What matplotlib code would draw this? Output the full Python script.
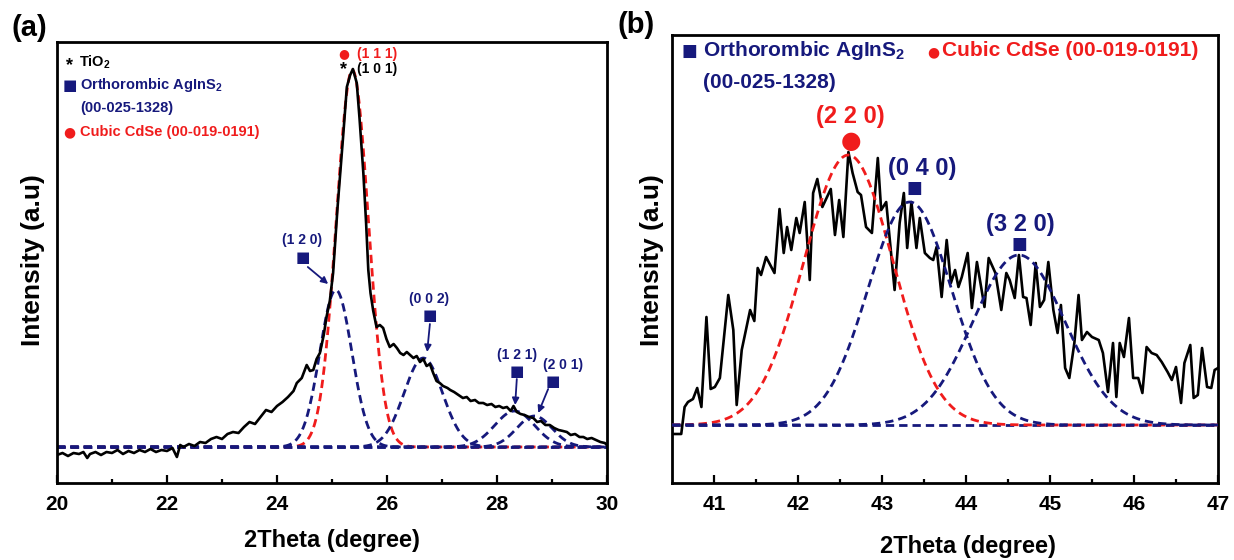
import numpy as np
import matplotlib
matplotlib.use("Agg")
import matplotlib.pyplot as plt

plt.rcParams['font.family'] = ['Liberation Sans', 'DejaVu Sans']
plt.rcParams['font.weight'] = 'bold'
plt.rcParams['mathtext.fontset'] = 'custom'
plt.rcParams['mathtext.bf'] = 'Liberation Sans:bold'
plt.rcParams['mathtext.rm'] = 'Liberation Sans:bold'
plt.rcParams['mathtext.default'] = 'bf'

# ---------------- data: panel (a) ----------------
two_theta_a = [
    20.0, 20.1, 20.2, 20.3, 20.4, 20.48, 20.55, 20.6, 20.7, 20.8,
    20.9, 21.0, 21.1, 21.2, 21.3, 21.4, 21.5, 21.6, 21.7, 21.8,
    21.9, 22.0, 22.1, 22.18, 22.24, 22.3, 22.4, 22.5, 22.6, 22.7,
    22.8, 22.9, 23.0, 23.1, 23.2, 23.3, 23.4, 23.5, 23.6, 23.7,
    23.8, 23.9, 24.0, 24.1, 24.2, 24.3, 24.36, 24.45, 24.54, 24.6,
    24.66, 24.72, 24.78, 24.85, 24.9, 24.96, 25.02, 25.1, 25.15, 25.2,
    25.27, 25.33, 25.38, 25.45, 25.5, 25.57, 25.62, 25.66, 25.7, 25.75,
    25.81, 25.87, 25.93, 25.99, 26.05, 26.12, 26.18, 26.24, 26.3, 26.36,
    26.42, 26.48, 26.54, 26.6, 26.66, 26.72, 26.78, 26.84, 26.9, 26.96,
    27.02, 27.1, 27.15, 27.22, 27.3, 27.38, 27.45, 27.52, 27.6, 27.67,
    27.75, 27.82, 27.9, 27.97, 28.04, 28.11, 28.18, 28.25, 28.3, 28.36,
    28.43, 28.5, 28.58, 28.66, 28.73, 28.8, 28.88, 28.96, 29.04, 29.12,
    29.2, 29.27, 29.34, 29.42, 29.5, 29.57, 29.64, 29.72, 29.8, 29.88,
    29.96, 30.0]
intensity_a = [
    28, 30, 27, 30, 29, 31, 25, 29, 31, 28,
    31, 30, 33, 29, 32, 30, 33, 31, 34, 31,
    33, 32, 35, 26, 38, 36, 39, 37, 41, 40,
    44, 46, 44, 49, 51, 50, 56, 61, 59, 66,
    73, 71, 77, 81, 86, 92, 100, 105, 118, 112,
    113, 124, 130, 148, 166, 182, 210, 275, 310, 345,
    396, 408, 414, 400, 365, 310, 260, 213, 190, 172,
    156, 158, 155, 144, 136, 139, 135, 130, 128, 131,
    128, 125, 127, 121, 124, 117, 119, 110, 102, 100,
    97, 95, 93, 91, 88, 85, 86, 82, 83, 80,
    80, 78, 79, 76, 77, 75, 76, 72, 77, 71,
    69, 68, 66, 65, 61, 62, 58, 58, 55, 53,
    52, 51, 48, 49, 46, 46, 44, 45, 43, 41,
    40, 38]
baseline_a = 36
peak_center_a = [25.37, 25.07, 26.66, 28.32, 28.68]
peak_amp_a = [377, 157, 89, 36, 31]
peak_sigma_a = [0.29, 0.29, 0.35, 0.36, 0.32]
peak_phase_a = ['CdSe', 'AgInS2', 'AgInS2', 'AgInS2', 'AgInS2']

# ---------------- data: panel (b) ----------------
two_theta_b = [
    40.50, 40.61, 40.65, 40.69, 40.75, 40.80, 40.85, 40.91, 40.96, 41.01,
    41.07, 41.17, 41.23, 41.27, 41.33, 41.43, 41.48, 41.52, 41.56, 41.62,
    41.72, 41.78, 41.83, 41.87, 41.92, 41.98, 42.02, 42.08, 42.14, 42.18,
    42.23, 42.29, 42.39, 42.44, 42.49, 42.54, 42.60, 42.65, 42.71, 42.75,
    42.81, 42.88, 42.95, 42.99, 43.05, 43.15, 43.21, 43.26, 43.30, 43.35,
    43.41, 43.45, 43.51, 43.57, 43.61, 43.65, 43.71, 43.77, 43.82, 43.87,
    43.91, 43.95, 44.02, 44.07, 44.13, 44.17, 44.22, 44.27, 44.35, 44.42,
    44.48, 44.52, 44.58, 44.63, 44.68, 44.72, 44.77, 44.83, 44.88, 44.93,
    44.98, 45.04, 45.09, 45.13, 45.18, 45.23, 45.29, 45.34, 45.38, 45.44,
    45.50, 45.58, 45.63, 45.69, 45.75, 45.79, 45.83, 45.88, 45.94, 45.99,
    46.05, 46.10, 46.15, 46.21, 46.27, 46.33, 46.40, 46.45, 46.50, 46.56,
    46.60, 46.67, 46.71, 46.76, 46.81, 46.87, 46.92, 46.96, 47.00]
intensity_b = [
    49, 49, 76, 81, 84, 95, 76, 166, 94, 96,
    105, 188, 153, 78, 133, 173, 162, 215, 208, 226,
    210, 274, 230, 256, 233, 265, 250, 281, 203, 290,
    304, 276, 294, 248, 283, 246, 331, 310, 291, 288,
    256, 250, 325, 273, 281, 193, 260, 290, 235, 281,
    235, 265, 230, 225, 223, 236, 186, 243, 200, 213,
    196, 206, 230, 175, 221, 201, 176, 225, 210, 173,
    210, 203, 185, 228, 186, 185, 158, 220, 176, 183,
    221, 173, 150, 178, 115, 105, 140, 188, 143, 151,
    146, 143, 130, 91, 140, 86, 140, 126, 165, 105,
    105, 90, 136, 130, 128, 121, 111, 103, 116, 80,
    120, 138, 85, 88, 135, 96, 95, 113, 115]
baseline_b = 58
peak_center_b = [42.60, 43.33, 44.63]
peak_amp_b = [270, 223, 170]
peak_sigma_b = [0.53, 0.50, 0.55]
peak_phase_b = ['CdSe', 'AgInS2', 'AgInS2']
peak_hkl_b = ['(2 2 0)', '(0 4 0)', '(3 2 0)']

# ---------------- styles ----------------
NAVY = '#16197c'
RED = '#f01c1c'
phase_color = {'CdSe': RED, 'AgInS2': NAVY}
W, H = 1234, 560

fig = plt.figure(figsize=(W / 100, H / 100), dpi=100)
ax1 = fig.add_axes([57 / W, 77 / H, 550 / W, 441 / H])
ax2 = fig.add_axes([672 / W, 77 / H, 546 / W, 448 / H])


def fpos(px, py):
    return px / W, 1 - py / H


def gauss(x, c, a, s, base):
    return base + a * np.exp(-(x - c) ** 2 / (2 * s ** 2))


def style_axes(ax, xlim, ylim, major, minor):
    ax.set_xlim(*xlim)
    ax.set_ylim(*ylim)
    ax.set_xticks(major)
    ax.set_xticks(minor, minor=True)
    ax.set_yticks([])
    for sp in ax.spines.values():
        sp.set_linewidth(2.0)
    ax.tick_params(axis='x', which='major', direction='in', length=6, width=1.6,
                   labelsize=15, pad=9)
    ax.tick_params(axis='x', which='minor', direction='in', length=3, width=1.6)
    for lab in ax.get_xticklabels():
        lab.set_fontweight('bold')


dash = (3.0, 1.8)
DLW = 2.0

# ---- panel (a) ----
xa = np.linspace(20, 30, 800)
ax1.plot([20, 30], [baseline_a, baseline_a], color=NAVY, lw=DLW, dashes=dash, zorder=2)
for c, a, s, ph in zip(peak_center_a, peak_amp_a, peak_sigma_a, peak_phase_a):
    ax1.plot(xa, gauss(xa, c, a, s, baseline_a), color=phase_color[ph], lw=DLW,
             dashes=dash, zorder=2 if ph == 'CdSe' else 2.5)
ax1.plot(two_theta_a, intensity_a, color='black', lw=1.9, zorder=3)
style_axes(ax1, (20, 30), (0, 441), [20, 22, 24, 26, 28, 30], [21, 23, 25, 27, 29])

# legend (a)
fig.text(*fpos(70, 66), '*', color='black', fontsize=13, ha='center', va='center')
fig.text(*fpos(79, 62), 'TiO$_2$', color='black', fontsize=10.5, ha='left', va='center')
fig.text(*fpos(70, 85), '\u25A0', color=NAVY, fontsize=11, ha='center', va='center',
         family='DejaVu Sans')
fig.text(*fpos(80, 85), 'Orthorombic AgInS$_2$', color=NAVY, fontsize=10.5, ha='left', va='center')
fig.text(*fpos(80, 108), '(00-025-1328)', color=NAVY, fontsize=10.5, ha='left', va='center')
fig.text(*fpos(69, 132), '\u25CF', color=RED, fontsize=10, ha='center', va='center',
         family='DejaVu Sans')
fig.text(*fpos(80, 132), 'Cubic CdSe (00-019-0191)', color=RED, fontsize=10.5, ha='left', va='center')

# peak labels (a)
ax1.text(25.22, 429, '\u25CF', color=RED, fontsize=9, ha='center', va='center', family='DejaVu Sans')
ax1.text(25.45, 429, '(1 1 1)', color=RED, fontsize=10, ha='left', va='center')
ax1.text(25.21, 413, '*', color='black', fontsize=13, ha='center', va='center')
ax1.text(25.46, 414, '(1 0 1)', color='black', fontsize=10, ha='left', va='center')

arrow_labels_a = [
    ('(1 2 0)', (24.45, 243), (24.47, 226), (24.56, 216), (24.93, 199)),
    ('(0 0 2)', (26.76, 184), (26.78, 167), (26.78, 159), (26.73, 131)),
    ('(1 2 1)', (28.36, 128), (28.36, 111), (28.36, 104), (28.33, 78)),
    ('(2 0 1)', (29.20, 118), (29.02, 101), (28.93, 94), (28.75, 70)),
]
for lab, tpos, spos, a0, a1 in arrow_labels_a:
    ax1.text(*tpos, lab, color=NAVY, fontsize=10, ha='center', va='center')
    ax1.text(*spos, '\u25A0', color=NAVY, fontsize=11, ha='center', va='center',
             family='DejaVu Sans')
    ax1.annotate('', xy=a1, xytext=a0,
                 arrowprops=dict(arrowstyle='-|>', color=NAVY, lw=1.3,
                                 mutation_scale=10, shrinkA=0, shrinkB=0))

fig.text(*fpos(33, 260), 'Intensity (a.u)', rotation=90, fontsize=19, ha='center', va='center')
fig.text(*fpos(332, 540), '2Theta (degree)', fontsize=17, ha='center', va='center')
fig.text(*fpos(29, 28), '(a)', fontsize=21, ha='center', va='center')

# ---- panel (b) ----
xb = np.linspace(40.5, 47, 800)
ax2.plot([40.5, 47], [baseline_b, baseline_b], color=NAVY, lw=DLW, dashes=dash, zorder=2)
ax2.plot(two_theta_b, intensity_b, color='black', lw=1.9, zorder=2)
for c, a, s, ph in zip(peak_center_b, peak_amp_b, peak_sigma_b, peak_phase_b):
    ax2.plot(xb, gauss(xb, c, a, s, baseline_b), color=phase_color[ph], lw=DLW,
             dashes=dash, zorder=3 if ph == 'CdSe' else 3.5)
style_axes(ax2, (40.5, 47), (0, 448), [41, 42, 43, 44, 45, 46, 47],
           [41.5, 42.5, 43.5, 44.5, 45.5, 46.5])

# legend (b)
fig.text(*fpos(689, 51), '\u25A0', color=NAVY, fontsize=12, ha='center', va='center',
         family='DejaVu Sans')
fig.text(*fpos(703, 51), 'Orthorombic AgInS$_2$', color=NAVY, fontsize=15, ha='left', va='center')
fig.text(*fpos(703, 83), '(00-025-1328)', color=NAVY, fontsize=15, ha='left', va='center')
fig.text(*fpos(933, 52), '\u25CF', color=RED, fontsize=10, ha='center', va='center',
         family='DejaVu Sans')
fig.text(*fpos(942, 51), 'Cubic CdSe (00-019-0191)', color=RED, fontsize=15, ha='left', va='center')

# peak labels (b)
sym_b = {'CdSe': '\u25CF', 'AgInS2': '\u25A0'}
sym_size_b = {'CdSe': 17, 'AgInS2': 12}
sym_off_b = [14, 14, 11]
sym_dx_b = [0.03, 0.06, 0.0]
lab_dx_b = [0.02, 0.15, 0.02]
for c, a, ph, hkl, so, sdx, dx in zip(peak_center_b, peak_amp_b, peak_phase_b, peak_hkl_b,
                                      sym_off_b, sym_dx_b, lab_dx_b):
    top = baseline_b + a
    col = phase_color[ph]
    ax2.text(c + sdx, top + so, sym_b[ph], color=col, fontsize=sym_size_b[ph],
             ha='center', va='center', family='DejaVu Sans')
    ax2.text(c + dx, top + so + (24 if ph == 'CdSe' else 20), hkl, color=col, fontsize=17,
             ha='center', va='center')

fig.text(*fpos(652, 260), 'Intensity (a.u)', rotation=90, fontsize=19, ha='center', va='center')
fig.text(*fpos(968, 546), '2Theta (degree)', fontsize=17, ha='center', va='center')
fig.text(*fpos(636, 25), '(b)', fontsize=21, ha='center', va='center')

fig.savefig('out.png', dpi=100)
